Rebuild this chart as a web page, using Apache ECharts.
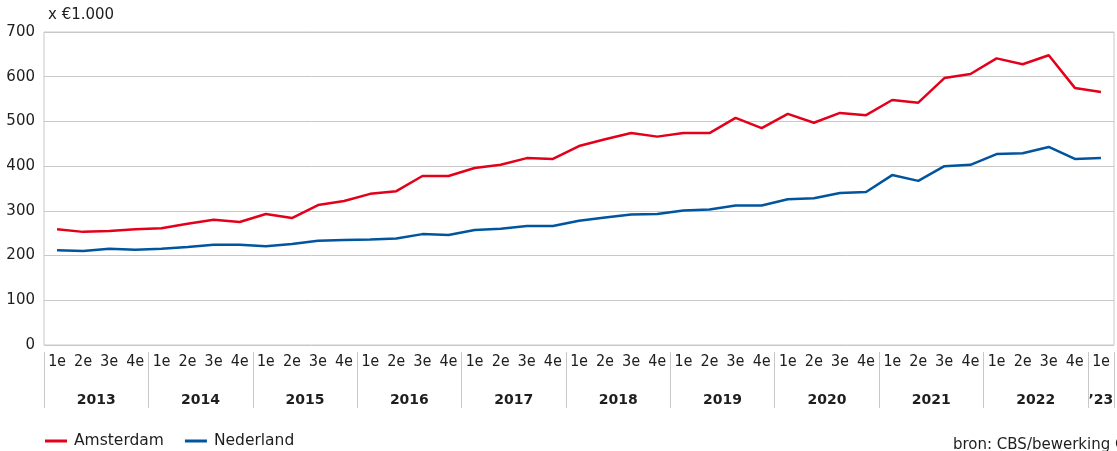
<!DOCTYPE html>
<html>
<head>
<meta charset="utf-8">
<script src="https://cdn.jsdelivr.net/npm/echarts@6/dist/echarts.min.js"></script>
<style>
  html, body { margin: 0; padding: 0; background: #fff; }
  #main { width: 1117px; height: 451px; }
</style>
</head>
<body>
<div id="main"></div>
<script>
// kwartalen 2013 1e t/m 2023 1e
var quarters = [];
var years = ['2013', '2014', '2015', '2016', '2017', '2018', '2019', '2020', '2021', '2022', '\u201923'];
for (var y = 0; y < years.length; y++) {
  var n = (y === years.length - 1) ? 1 : 4;
  for (var q = 1; q <= n; q++) quarters.push(q + 'e');
}

var amsterdam = [259, 253, 255, 259, 261, 271, 280, 275, 293, 284,
                 313, 322, 338, 344, 378, 378, 396, 403, 418, 416,
                 445, 460, 474, 466, 474, 474, 508, 485, 517, 497,
                 519, 514, 548, 542, 597, 606, 641, 628, 648, 575,
                 566];
var nederland = [212, 210, 215, 213, 215, 219, 224, 224, 221, 226,
                 233, 235, 236, 238, 248, 246, 257, 260, 266, 266,
                 278, 285, 292, 293, 301, 303, 312, 312, 326, 328,
                 340, 342, 380, 367, 400, 403, 427, 429, 443, 416,
                 418];

// jaarlabels op halve-kwartaal posities (0..82), midden van elk jaar
var yearSlots = [];
for (var i = 0; i <= quarters.length * 2; i++) yearSlots.push('');
for (var k = 0; k < years.length - 1; k++) yearSlots[k * 8 + 4] = years[k];
yearSlots[81] = years[years.length - 1];

var txt = '#1e1e1e';
var gridCol = '#c8c8c8';

var chart = echarts.init(document.getElementById('main'));

chart.setOption({
  animation: false,
  textStyle: { fontFamily: 'DejaVu Sans, sans-serif' },
  grid: {
    left: 44, right: 2, top: 32, bottom: 106,
    show: true, borderColor: gridCol, borderWidth: 1
  },
  legend: {
    left: 45, top: 433, padding: 0,
    icon: 'rect', itemWidth: 22, itemHeight: 3, itemGap: 21,
    textStyle: { fontSize: 15.5, color: txt, fontFamily: 'DejaVu Sans', padding: [0, 0, 0, 2] },
    data: ['Amsterdam', 'Nederland']
  },
  xAxis: [{
    type: 'category',
    data: quarters,
    axisLine: { show: false },
    axisTick: { show: false },
    axisLabel: {
      interval: 0, margin: 10, fontSize: 15, color: txt,
      fontFamily: 'DejaVu Sans Mono'
    }
  }, {
    type: 'category',
    boundaryGap: false,
    position: 'bottom',
    offset: 7,
    data: yearSlots,
    axisLine: { show: false },
    axisTick: {
      show: true, length: 56,
      interval: function (idx) { return idx % 8 === 0 || idx === 82; },
      lineStyle: { color: gridCol, width: 1 }
    },
    axisLabel: {
      interval: 0, margin: 41, fontSize: 14, fontWeight: 'bold', color: txt,
      fontFamily: 'DejaVu Sans'
    },
    splitLine: { show: false }
  }],
  yAxis: {
    type: 'value',
    min: 0, max: 700, interval: 100,
    name: 'x \u20ac1.000',
    nameLocation: 'end',
    nameGap: 9,
    nameTextStyle: { align: 'left', fontSize: 15, color: txt, padding: [0, 0, 0, 4] },
    axisLine: { show: false },
    axisTick: { show: false },
    axisLabel: { margin: 9, fontSize: 15, color: txt },
    splitLine: { lineStyle: { color: gridCol, width: 1 } }
  },
  series: [{
    name: 'Amsterdam',
    type: 'line',
    data: amsterdam,
    symbol: 'none',
    color: '#e3001b',
    lineStyle: { width: 2.5, color: '#e3001b' }
  }, {
    name: 'Nederland',
    type: 'line',
    data: nederland,
    symbol: 'none',
    color: '#00559e',
    lineStyle: { width: 2.5, color: '#00559e' }
  }],
  graphic: [{
    type: 'text',
    left: 953, top: 438,
    style: { text: 'bron: CBS/bewerking O&S', fontSize: 15, fill: txt, fontFamily: 'DejaVu Sans' }
  }]
});
</script>
</body>
</html>
